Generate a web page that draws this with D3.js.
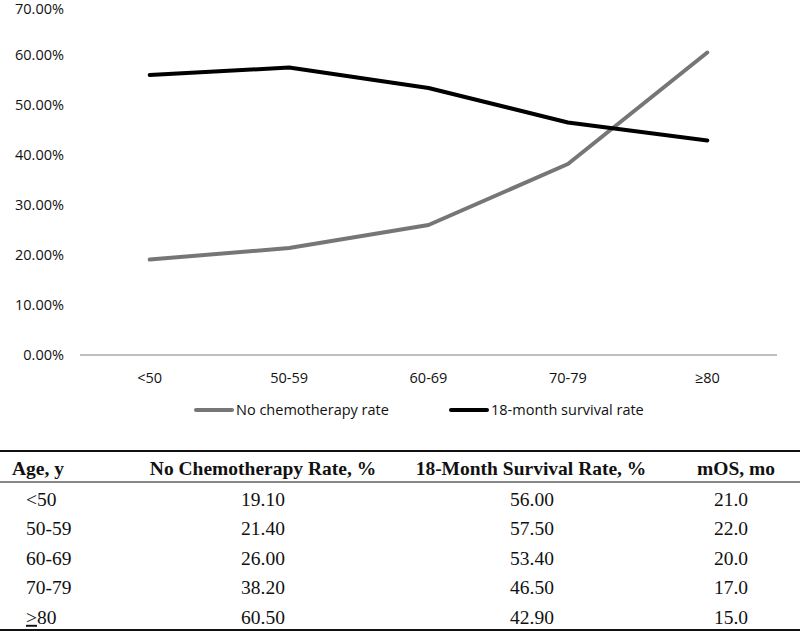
<!DOCTYPE html>
<html><head><meta charset="utf-8">
<script src="https://cdn.jsdelivr.net/npm/d3@7"></script>
<style>body{margin:0;background:#fff}svg{display:block}</style>
</head><body>
<svg id="c" width="800" height="631"></svg>
<script>
const categories = ["<50","50-59","60-69","70-79","≥80"];
const noChemo = [19.10,21.40,26.00,38.20,60.50];
const survival18 = [56.00,57.50,53.40,46.50,42.90];
const mOS = [21.0,22.0,20.0,17.0,15.0];
const yTicks = [0,10,20,30,40,50,60,70];
const seriesNames = ["No chemotherapy rate","18-month survival rate"];
const tableHeaders = ["Age, y","No Chemotherapy Rate, %","18-Month Survival Rate, %","mOS, mo"];

const svg = d3.select("#c");
const x = d3.scaleBand().domain(categories).range([80,777]);
const y = d3.scaleLinear().domain([0,70]).range([355,5]);
const cf = "'Open Sans', sans-serif";

// y tick labels
svg.append("g").selectAll("text").data(yTicks).join("text")
  .attr("x",64).attr("y",d=>Math.max(y(d),9)).attr("dy","0.35em").attr("text-anchor","end")
  .attr("font-family",cf).attr("font-size",14.5).attr("fill","#111")
  .text(d=>d.toFixed(2)+"%");
// axis line
svg.append("line").attr("x1",80).attr("x2",777).attr("y1",y(0)).attr("y2",y(0))
  .attr("stroke","#bfbfbf").attr("stroke-width",2);
// x labels
svg.append("g").selectAll("text").data(categories).join("text")
  .attr("x",d=>x(d)+x.bandwidth()/2).attr("y",378).attr("dy","0.35em").attr("text-anchor","middle")
  .attr("font-family",cf).attr("font-size",14.5).attr("fill","#111").text(d=>d);

const line = d3.line().x((d,i)=>x(categories[i])+x.bandwidth()/2).y(d=>y(d));
const colors = ["#767676","#000"];
[noChemo,survival18].forEach((s,k)=>{
  svg.append("path").datum(s).attr("d",line).attr("fill","none")
    .attr("stroke",colors[k]).attr("stroke-width",4).attr("stroke-linejoin","round").attr("stroke-linecap","round");
});
// legend
const legX = [196,451];
seriesNames.forEach((n,k)=>{
  svg.append("line").attr("x1",legX[k]).attr("x2",legX[k]+36).attr("y1",410).attr("y2",410)
    .attr("stroke",colors[k]).attr("stroke-width",4).attr("stroke-linecap","round");
  svg.append("text").attr("x",legX[k]+40).attr("y",410).attr("dy","0.35em")
    .attr("font-family",cf).attr("font-size",14.5).attr("fill","#111").text(n);
});

// table
const tf = "'Liberation Serif', 'Times New Roman', serif";
svg.append("line").attr("x1",0).attr("x2",800).attr("y1",451).attr("y2",451).attr("stroke","#111").attr("stroke-width",2);
svg.append("line").attr("x1",0).attr("x2",800).attr("y1",482).attr("y2",482).attr("stroke","#111").attr("stroke-width",1.2);
svg.append("line").attr("x1",0).attr("x2",800).attr("y1",630).attr("y2",630).attr("stroke","#111").attr("stroke-width",2);
const colX = [12,263,531,736];
tableHeaders.forEach((h,i)=>{
  svg.append("text").attr("x",colX[i]).attr("y",468).attr("dy","0.35em")
    .attr("text-anchor",i===0?"start":"middle")
    .attr("font-family",tf).attr("font-size",19.5).attr("font-weight","bold").attr("fill","#111").text(h);
});
const rowY = d3.scalePoint().domain(categories).range([499,617]);
categories.forEach((c,r)=>{
  const t = svg.append("text").attr("x",26).attr("y",rowY(c)).attr("dy","0.35em")
    .attr("font-family",tf).attr("font-size",19.5).attr("fill","#111");
  if(c.startsWith("≥")){
    t.append("tspan").attr("text-decoration","underline").text(">");
    t.append("tspan").text(c.slice(1));
  } else t.text(c);
  [[noChemo[r].toFixed(2),263],[survival18[r].toFixed(2),532],[mOS[r].toFixed(1),731]].forEach(([v,cx])=>{
    svg.append("text").attr("x",cx).attr("y",rowY(c)).attr("dy","0.35em").attr("text-anchor","middle")
      .attr("font-family",tf).attr("font-size",19.5).attr("fill","#111").text(v);
  });
});
</script>
</body></html>
